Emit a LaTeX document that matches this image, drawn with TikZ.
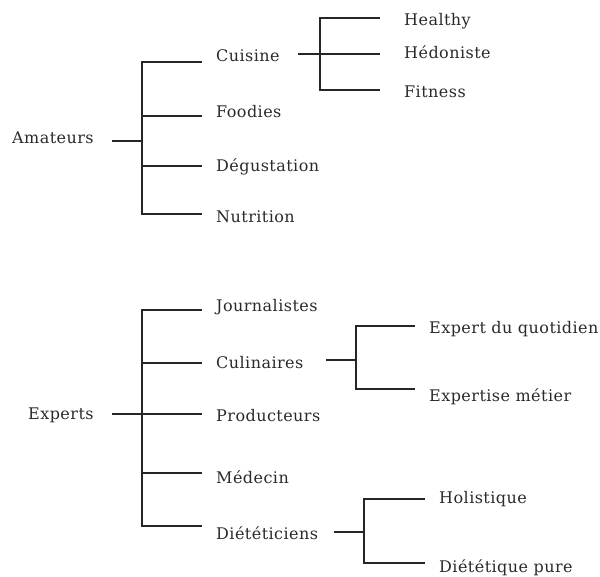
\documentclass[tikz,border=0pt]{standalone}
\usepackage{fontspec}
\setmainfont{DejaVu Serif}[LetterSpace=2.8]
\usepackage{tikz}
\usetikzlibrary{positioning}
\definecolor{txtgray}{HTML}{2A2A2A}
\definecolor{linegray}{HTML}{262626}
\tikzset{
  label/.style={anchor=base west,inner sep=0pt,text=txtgray,
    font=\fontsize{16pt}{19pt}\selectfont},
  branch/.style={draw=linegray,line width=1.8pt}
}

\begin{document}
\begin{tikzpicture}[x=1pt,y=-1pt]
		\useasboundingbox (0,0) rectangle (600,577);
		% Amateurs
		\node[label] (am) at (12,144) {Amateurs};
		\node[label] (cu) at (216,62) {Cuisine};
		\node[label] (fo) at (216,118) {Foodies};
		\node[label] (de) at (216,172) {Dégustation};
		\node[label] (nu) at (216,223) {Nutrition};
		\node[label] (he) at (404,26) {Healthy};
		\node[label] (hd) at (404,59) {Hédoniste};
		\node[label] (fi) at (404,98) {Fitness};
		\coordinate (amS) at (112,141); \coordinate (amJ) at (142,141);
		\coordinate (cuE) at (202,62);  \coordinate (foE) at (202,116);
		\coordinate (deE) at (202,166); \coordinate (nuE) at (202,214);
		\coordinate (cuS) at (298,54);  \coordinate (cuJ) at (320,54);
		\coordinate (heE) at (380,18);  \coordinate (hdE) at (380,54);
		\coordinate (fiE) at (380,90);
		% Experts
		\node[label] (ex) at (28,419) {Experts};
		\node[label] (jo) at (216,312) {Journalistes};
		\node[label] (cl) at (216,369) {Culinaires};
		\node[label] (pr) at (216,421) {Producteurs};
		\node[label] (me) at (216,483) {Médecin};
		\node[label] (di) at (216,539) {Diététiciens};
		\node[label] (eq) at (429,334) {Expert du quotidien};
		\node[label] (em) at (429,402) {Expertise métier};
		\node[label] (ho) at (439,503) {Holistique};
		\node[label] (dp) at (439,572) {Diététique pure};
		\coordinate (exS) at (112,414); \coordinate (exJ) at (142,414);
		\coordinate (joE) at (202,310); \coordinate (clE) at (202,363);
		\coordinate (prE) at (202,414); \coordinate (meE) at (202,473);
		\coordinate (diE) at (202,526);
		\coordinate (clS) at (326,360); \coordinate (clJ) at (356,360);
		\coordinate (eqE) at (415,326); \coordinate (emE) at (415,389);
		\coordinate (diS) at (334,532); \coordinate (diJ) at (364,532);
		\coordinate (hoE) at (425,499); \coordinate (dpE) at (425,563);
		\begin{scope}[every path/.style={branch}]
		  \draw (amS) -- (amJ);
		  \draw (cuE) -| (amJ) |- (nuE);
		  \draw (amJ |- foE) -- (foE);
		  \draw (amJ |- deE) -- (deE);
		  \draw (cuS) -- (cuJ);
		  \draw (heE) -| (cuJ) |- (fiE);
		  \draw (cuJ) -- (hdE);
		  \draw (exS) -- (exJ);
		  \draw (joE) -| (exJ) |- (diE);
		  \draw (exJ |- clE) -- (clE);
		  \draw (exJ) -- (prE);
		  \draw (exJ |- meE) -- (meE);
		  \draw (clS) -- (clJ);
		  \draw (eqE) -| (clJ) |- (emE);
		  \draw (diS) -- (diJ);
		  \draw (hoE) -| (diJ) |- (dpE);
		\end{scope}
	\end{tikzpicture}
\end{document}
